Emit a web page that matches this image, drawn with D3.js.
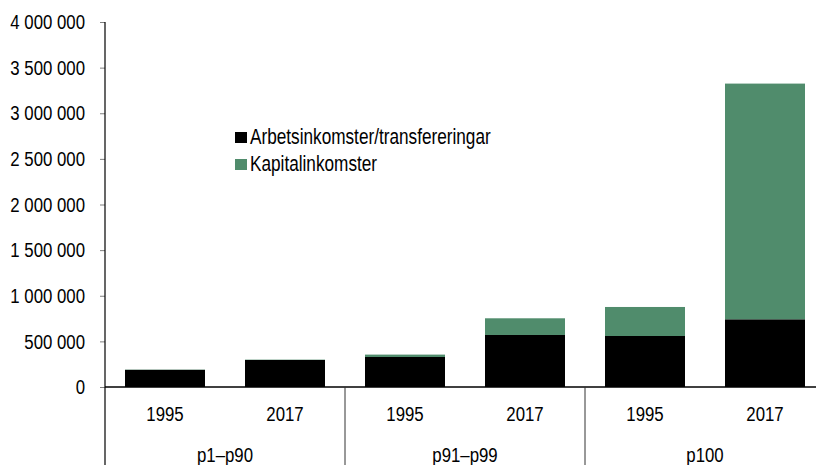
<!DOCTYPE html>
<html>
<head>
<meta charset="utf-8">
<script src="https://cdn.jsdelivr.net/npm/d3@7"></script>
<style>
  body { margin: 0; background: #fff; }
  svg { display: block; font-family: "Liberation Sans", Arial, sans-serif; }
  text { fill: #000; }
</style>
</head>
<body>
<div class="chart"></div>
<script>
let groups = ["p1\u2013p90", "p91\u2013p99", "p100"];
let years = ["1995", "2017"];
// black = arbetsinkomster/transfereringar, green = kapitalinkomster
let arbete = [188000, 296000, 329000, 570000, 559000, 742000];
let kapital = [3000, 4000, 26000, 183000, 318000, 2583000];
let yTicks = [0, 500000, 1000000, 1500000, 2000000, 2500000, 3000000, 3500000, 4000000];
let seriesNames = ["Arbetsinkomster/transfereringar", "Kapitalinkomster"];
let colors = ["#000000", "#508c6c"];

let svgWidth = 816;
let svgHeight = 465;
let margin = { top: 22, right: -9, bottom: 78, left: 105 };
let chartWidth = svgWidth - margin.left - margin.right;
let chartHeight = svgHeight - margin.top - margin.bottom;
let squeeze = 0.8; // the original font is a condensed one

function condense(sel) {
  sel.each(function() {
    let t = d3.select(this);
    let tx = +t.attr("x") || 0;
    let ty = +t.attr("y") || 0;
    t.attr("x", 0).attr("y", 0)
      .attr("transform", `translate(${tx}, ${ty}) scale(${squeeze}, 1)`);
  });
}

let svg = d3.select(".chart").append("svg")
  .attr("width", svgWidth)
  .attr("height", svgHeight);

let chart = svg.append("g")
  .attr("transform", `translate(${margin.left}, ${margin.top})`);

let rows = [];
groups.forEach(function(g, gi) {
  years.forEach(function(yr, yi) {
    let i = gi * years.length + yi;
    rows.push({ key: g + "|" + yr, group: g, year: yr, arbete: arbete[i], kapital: kapital[i] });
  });
});

let x = d3.scaleBand().domain(rows.map(d => d.key)).range([0, chartWidth]).paddingInner(1/3).paddingOuter(1/6);
let xGroup = d3.scaleBand().domain(groups).range([0, chartWidth]);
let y = d3.scaleLinear().domain([0, 4000000]).range([chartHeight, 0]);

let stacked = d3.stack().keys(["arbete", "kapital"])(rows);

chart.selectAll("g.layer")
  .data(stacked)
  .enter().append("g")
    .attr("class", "layer")
    .attr("fill", (d, i) => colors[i])
  .selectAll("rect")
  .data(d => d)
  .enter().append("rect")
    .attr("x", d => x(d.data.key))
    .attr("width", x.bandwidth())
    .attr("y", d => y(d[1]))
    .attr("height", d => y(d[0]) - y(d[1]));

// y axis
let leftAxis = d3.axisLeft(y).tickValues(yTicks).tickSize(5).tickPadding(15)
  .tickFormat(v => d3.format(",")(v).replace(/,/g, " "));
let yAxis = chart.append("g").call(leftAxis);
yAxis.select(".domain").remove();
yAxis.selectAll(".tick line").attr("stroke", "#7f7f7f");
yAxis.selectAll(".tick text")
  .style("font-size", "21px")
  .attr("fill", "#000")
  .call(condense);
yAxis.attr("font-family", null).attr("font-size", null);
chart.append("line")
  .attr("x1", 0).attr("x2", 0).attr("y1", 0).attr("y2", svgHeight - margin.top)
  .attr("stroke", "#000").attr("stroke-width", 1.2);

// x axis line
chart.append("line")
  .attr("x1", 0).attr("x2", chartWidth).attr("y1", chartHeight).attr("y2", chartHeight)
  .attr("stroke", "#000").attr("stroke-width", 1.5);

// group separators
chart.selectAll("line.sep")
  .data(groups.slice(1))
  .enter().append("line")
    .attr("class", "sep")
    .attr("x1", d => xGroup(d)).attr("x2", d => xGroup(d))
    .attr("y1", chartHeight).attr("y2", svgHeight - margin.top)
    .attr("stroke", "#333").attr("stroke-width", 1);

// year labels
chart.selectAll("text.year")
  .data(rows)
  .enter().append("text")
    .attr("class", "year")
    .attr("x", d => x(d.key) + x.bandwidth() / 2)
    .attr("y", chartHeight + 34)
    .attr("text-anchor", "middle")
    .style("font-size", "21px")
    .text(d => d.year)
    .call(condense);

// group labels
chart.selectAll("text.group")
  .data(groups)
  .enter().append("text")
    .attr("class", "group")
    .attr("x", d => xGroup(d) + xGroup.bandwidth() / 2)
    .attr("y", chartHeight + 75)
    .attr("text-anchor", "middle")
    .style("font-size", "21px")
    .text(d => d)
    .call(condense);

// legend
let legend = svg.append("g").attr("transform", "translate(235, 132)");
seriesNames.forEach(function(name, i) {
  legend.append("rect")
    .attr("x", 0).attr("y", i * 27)
    .attr("width", 12).attr("height", 11)
    .attr("fill", colors[i]);
  legend.append("text")
    .attr("x", 15).attr("y", i * 27 + 11.5)
    .style("font-size", "21.5px")
    .text(name)
    .call(condense);
});
</script>
</body>
</html>
